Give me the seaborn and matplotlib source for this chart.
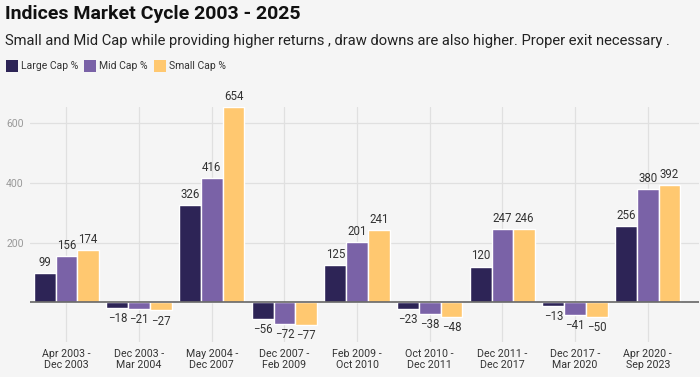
import matplotlib
matplotlib.use("Agg")
import matplotlib.pyplot as plt
import seaborn as sns
import pandas as pd
from matplotlib.patches import Rectangle

categories = ["Apr 2003 -\nDec 2003", "Dec 2003 -\nMar 2004", "May 2004 -\nDec 2007",
              "Dec 2007 -\nFeb 2009", "Feb 2009 -\nOct 2010", "Oct 2010 -\nDec 2011",
              "Dec 2011 -\nDec 2017", "Dec 2017 -\nMar 2020", "Apr 2020 -\nSep 2023"]
large_cap = [99, -18, 326, -56, 125, -23, 120, -13, 256]
mid_cap = [156, -21, 416, -72, 201, -38, 247, -41, 380]
small_cap = [174, -27, 654, -77, 241, -48, 246, -50, 392]
series_names = ["Large Cap %", "Mid Cap %", "Small Cap %"]
colors = ["#2d2456", "#7a62a7", "#ffc870"]
y_ticks = [200, 400, 600]

rows = []
for name, vals in zip(series_names, [large_cap, mid_cap, small_cap]):
    for c, v in zip(categories, vals):
        rows.append({"period": c, "series": name, "value": v})
df = pd.DataFrame(rows)

sns.set_style("white")
plt.rcParams['font.family'] = ['Roboto', 'DejaVu Sans']
bg = "#f5f5f5"
fig = plt.figure(figsize=(7, 3.77), dpi=100, facecolor=bg)
ax = fig.add_axes([0.043, 0.093, 0.955, 0.623], facecolor=bg)

sns.barplot(data=df, x="period", y="value", hue="series", order=categories,
            hue_order=series_names, palette=colors, width=0.9, saturation=1,
            legend=False, ax=ax, zorder=2)

for cont in ax.containers:
    labels = [f"{v:.0f}".replace("-", "\u2212") for v in cont.datavalues]
    ax.bar_label(cont, labels=labels, padding=3, fontsize=8.3, color="#333333")

ax.set_ylim(-133, 655)
ax.set_xlim(-0.5, len(categories) - 0.3)
ax.set_yticks(y_ticks)
ax.set_yticklabels([str(t) for t in y_ticks])
ax.tick_params(axis="y", colors="#999999", labelsize=7.5, length=0, pad=-2)
ax.tick_params(axis="x", colors="#333333", labelsize=7.7, length=0, pad=5)
for lbl in ax.get_yticklabels():
    lbl.set_horizontalalignment("left")
    lbl.set_x(-0.04)
ax.set_xlabel("")
ax.set_ylabel("")
ax.grid(True, axis="both", color="#e0e0e0", linewidth=0.9, zorder=0)
ax.set_axisbelow(True)
ax.axhline(0, color="#666666", linewidth=1.2, zorder=3)
for s in ax.spines.values():
    s.set_visible(False)

fig.text(5 / 700, 1 - 19 / 377, "Indices Market Cycle 2003 - 2025", fontsize=14,
         fontweight="bold", color="#111111", va="baseline")
fig.text(5 / 700, 1 - 45 / 377,
         "Small and Mid Cap while providing higher returns , draw downs are also higher. Proper exit necessary .",
         fontsize=10.6, color="#222222", va="baseline")

x = 6
for name, col in zip(series_names, colors):
    fig.patches.append(Rectangle((x / 700, 1 - 72 / 377), 12 / 700, 12 / 377,
                                 transform=fig.transFigure, facecolor=col, edgecolor="none"))
    t = fig.text((x + 15) / 700, 1 - 66 / 377, name, fontsize=7.5, color="#333333", va="center")
    fig.canvas.draw()
    bb = t.get_window_extent()
    x = bb.x1 + 6

fig.savefig("out.png", dpi=100, facecolor=bg)
